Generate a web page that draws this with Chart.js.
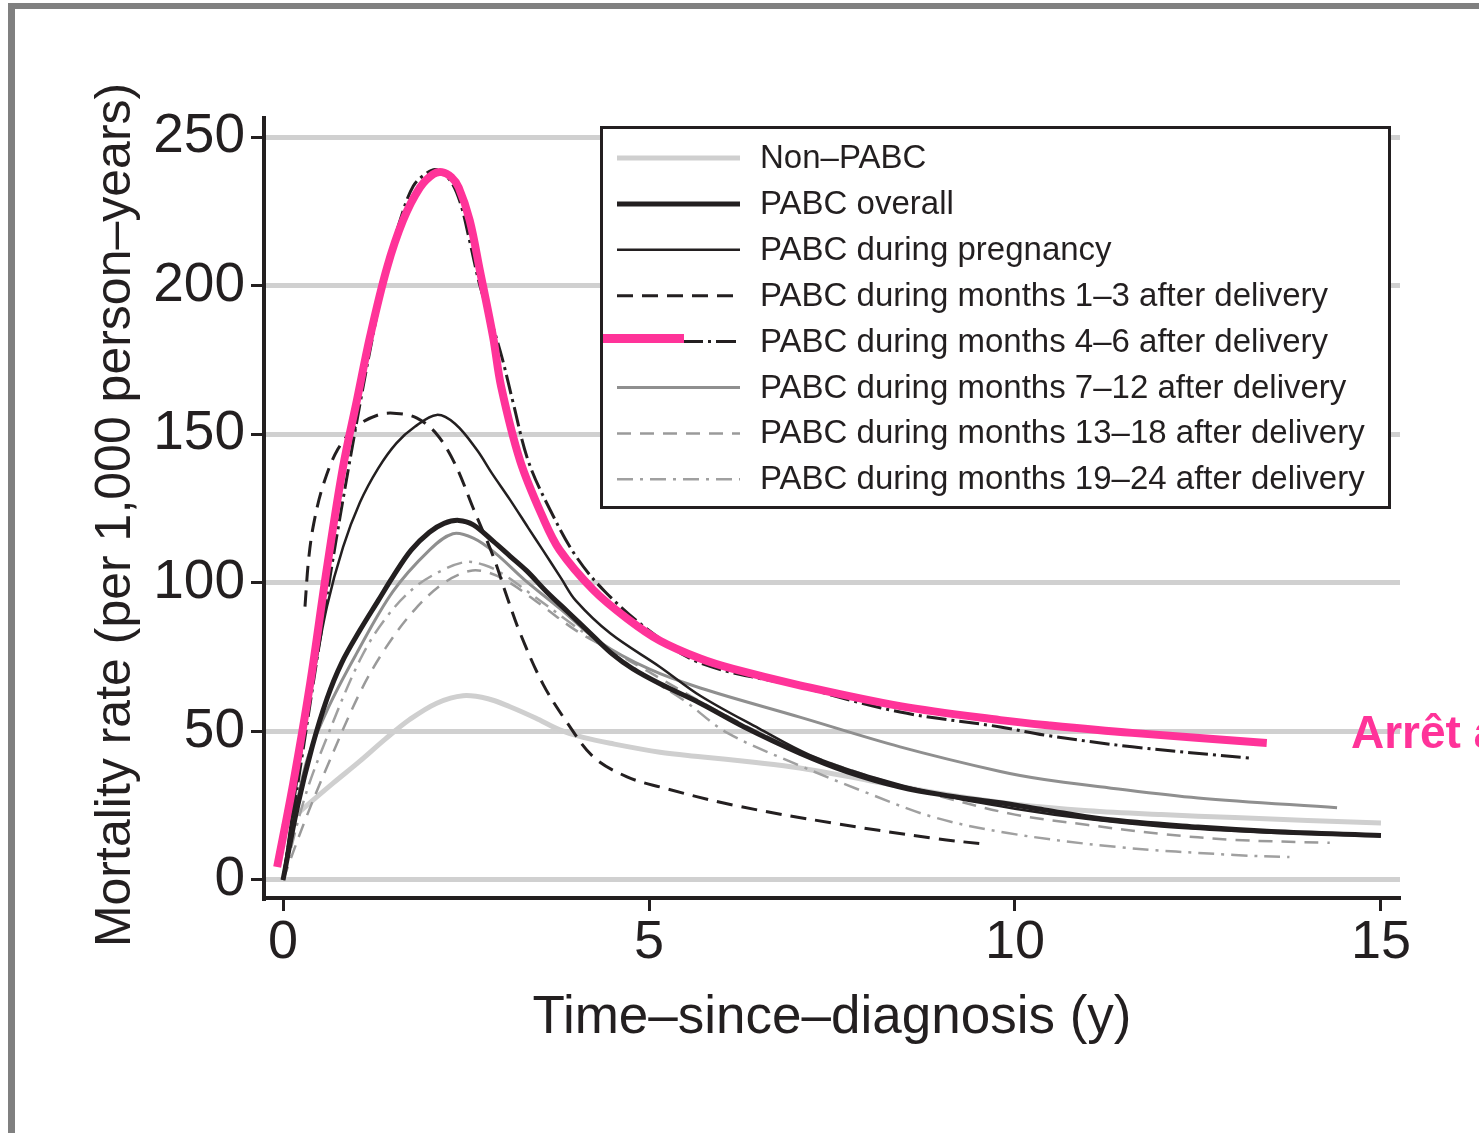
<!DOCTYPE html>
<html>
<head>
<meta charset="utf-8">
<script src="https://cdn.jsdelivr.net/npm/chart.js@4.4.1/dist/chart.umd.min.js"></script>
<style>
  html, body { margin: 0; padding: 0; background: #ffffff; }
  canvas { display: block; }
</style>
</head>
<body>
<canvas id="c" width="1479" height="1133" style="width:1479px;height:1133px"></canvas>
<script>
// ---------------- DATA ----------------
const xTickValues = [0, 5, 10, 15];
const yTickValues = [0, 50, 100, 150, 200, 250];
const xTitle = 'Time\u2013since\u2013diagnosis (y)';
const yTitle = 'Mortality rate (per 1,000 person\u2013years) ';
const annotationText = 'Arr\u00eat \u00e0';

const seriesLabels = [
  'Non\u2013PABC',
  'PABC overall',
  'PABC during pregnancy',
  'PABC during months 1\u20133 after delivery',
  'PABC during months 4\u20136 after delivery',
  'PABC during months 7\u201312 after delivery',
  'PABC during months 13\u201318 after delivery',
  'PABC during months 19\u201324 after delivery'
];

const nonPabcT = [0, 0.37, 0.68, 1.05, 1.4, 1.73, 2.1, 2.46, 2.8, 3.1, 3.45, 3.78, 4.1, 4.47, 5.15, 5.7, 6.4, 7.06, 8, 9, 10, 11, 12, 13, 14, 15];
const nonPabcRate = [18, 26, 32.5, 40, 47.5, 54, 59.5, 62, 61, 58.3, 54.5, 50.5, 48, 46, 43, 41.5, 39.7, 37.7, 33.5, 29, 25.5, 23.3, 22, 21, 20, 19.2];

const overallT = [0, 0.2, 0.4, 0.6, 0.8, 1.05, 1.3, 1.5, 1.75, 2.0, 2.2, 2.4, 2.6, 2.87, 3.1, 3.33, 3.6, 3.9, 4.24, 4.5, 4.78, 5.15, 5.7, 6.3, 7.06, 7.7, 8.43, 9.1, 9.8, 10.4, 11.2, 12.5, 13.5, 15];
const overallRate = [0, 25, 45, 61, 73, 84, 94, 102, 111, 117, 120, 121, 119.5, 114, 109, 104, 97, 90, 82, 76, 71, 66, 59.5, 51.5, 42.7, 36.5, 31.3, 28.3, 26, 23.6, 20.5, 17.8, 16.3, 15];

const pregnancyT = [0, 0.2, 0.4, 0.6, 0.82, 1.05, 1.3, 1.55, 1.8, 2.1, 2.35, 2.65, 2.85, 3.1, 3.35, 3.55, 3.8, 4.0, 4.47, 5.15, 5.7, 6.5, 7.2, 8, 9, 10, 11, 12, 13, 14, 15];
const pregnancyRate = [0, 35, 66, 92, 112, 127, 138.5, 147, 152.5, 156.5, 153.5, 144.7, 137, 128, 118.5, 111, 101.5, 94, 83, 71.7, 62, 51, 42, 35, 28.5, 24, 20.5, 18, 16.5, 15.5, 15];

const m1to3T = [0.3, 0.35, 0.42, 0.55, 0.75, 1.0, 1.3, 1.55, 1.83, 2.1, 2.35, 2.6, 2.87, 3.05, 3.24, 3.55, 3.88, 4.24, 4.7, 5.15, 6.15, 7.5, 8.9, 9.6];
const m1to3Rate = [92, 108, 120, 133, 145, 152.5, 156.5, 157, 155.4, 150, 140, 125, 109, 96, 83, 66, 53, 41.4, 34.7, 31.3, 25.2, 19.2, 14, 12];

const m4to6T = [0, 0.25, 0.5, 0.75, 1.05, 1.25, 1.42, 1.6, 1.78, 1.97, 2.1, 2.28, 2.42, 2.55, 2.69, 2.87, 3.0, 3.14, 3.35, 3.65, 4.0, 4.4, 5.0, 5.7, 7.06, 8.43, 9.8, 10.4, 11.6, 13.2];
const m4to6Rate = [0, 40, 80, 118, 160, 186, 206, 222, 233.5, 238, 239, 235.5, 228, 215, 200, 186, 175, 161, 141, 124.5, 109, 97, 84, 73, 65, 56.5, 51.5, 48.8, 44.8, 41];

const m7to12T = [0, 0.3, 0.6, 1.0, 1.5, 2.0, 2.32, 2.6, 2.9, 3.3, 3.8, 4.33, 5.0, 5.7, 7.06, 8.43, 9.8, 10.4, 11.16, 12.5, 14.4];
const m7to12Rate = [0, 38, 57, 76, 97, 111, 116.5, 115, 110, 101, 91, 80, 71, 64.6, 54.8, 44.8, 36.5, 33.8, 31.4, 27.6, 24.3];

const m13to18T = [0, 0.3, 0.6, 1.05, 1.4, 1.8, 2.2, 2.55, 2.8, 3.1, 3.5, 4.0, 4.5, 5.0, 6.0, 7.0, 8.0, 9.0, 10, 11, 12, 13, 14.3];
const m13to18Rate = [0, 20, 38, 63, 78, 91, 100, 104, 103.5, 100, 93, 84, 77, 70, 56, 44, 35, 28, 22, 18.5, 15.5, 13.5, 12.5];

const m19to24T = [0, 0.3, 0.6, 1.05, 1.4, 1.8, 2.2, 2.5, 2.75, 3.0, 3.4, 3.9, 4.4, 5.0, 5.5, 6.07, 7.06, 7.98, 8.88, 9.9, 11.4, 13, 13.75];
const m19to24Rate = [0, 28, 48, 74, 88, 98.5, 104.5, 107, 106, 103, 96, 87, 78, 68, 60, 49.5, 38.5, 29.3, 21.2, 15.8, 11.1, 8.4, 7.7];

// pink hand-drawn highlight over the months 4-6 curve
const highlightT = [-0.08, 0.14, 0.37, 0.6, 0.82, 1.01, 1.19, 1.42, 1.64, 1.87, 2.05, 2.17, 2.3, 2.4, 2.55, 2.69, 2.87, 2.98, 3.24, 3.55, 3.78, 4.24, 4.7, 5.15, 5.7, 6.15, 7.06, 8.43, 9.8, 10.48, 11.6, 13.44];
const highlightRate = [4.4, 32.6, 66, 105, 139, 161.5, 183, 206, 222, 233, 237.5, 238.2, 236.5, 233, 222, 205, 182.7, 166, 141, 122, 111, 97.6, 88, 80.5, 74.5, 71, 65.5, 58.5, 53.8, 52, 49.5, 46.1];

// ---------------- STYLE ----------------
const INK = '#231f20';
const PINK = '#ff3399';
const FONT = '"Liberation Sans", Arial, Helvetica, sans-serif';

function pts(t, v) { return t.map((x, i) => ({ x: x, y: v[i] })); }

const styles = [
  { color: '#cfcfcf', width: 5, dash: [] },
  { color: INK, width: 5, dash: [] },
  { color: INK, width: 2.5, dash: [] },
  { color: INK, width: 3, dash: [16, 9] },
  { color: INK, width: 3, dash: [20, 5, 3, 5] },
  { color: '#8f8f8f', width: 3, dash: [] },
  { color: '#9a9a9a', width: 2.5, dash: [14, 9] },
  { color: '#a0a0a0', width: 2.5, dash: [16, 7, 3, 7] }
];
const seriesData = [
  pts(nonPabcT, nonPabcRate),
  pts(overallT, overallRate),
  pts(pregnancyT, pregnancyRate),
  pts(m1to3T, m1to3Rate),
  pts(m4to6T, m4to6Rate),
  pts(m7to12T, m7to12Rate),
  pts(m13to18T, m13to18Rate),
  pts(m19to24T, m19to24Rate)
];
const drawOrder = [8, 1, 3, 2, 4, 5, 6, 7];

const datasets = seriesLabels.map((label, i) => ({
  label: label,
  data: seriesData[i],
  borderColor: styles[i].color,
  borderWidth: styles[i].width,
  borderDash: styles[i].dash,
  order: drawOrder[i],
  fill: false
}));
datasets.push({
  label: 'highlight',
  isHighlight: true,
  data: pts(highlightT, highlightRate),
  borderColor: PINK,
  borderWidth: 8,
  borderDash: [],
  order: 0,
  fill: false
});

// ---------------- PLUGINS ----------------
const framePlugin = {
  id: 'frame',
  beforeDraw(chart) {
    const ctx = chart.ctx;
    ctx.save();
    ctx.fillStyle = '#ffffff';
    ctx.fillRect(0, 0, chart.width, chart.height);
    ctx.fillStyle = '#808080';
    ctx.fillRect(8, 3, chart.width - 8, 6);
    ctx.fillRect(8, 3, 7, chart.height - 3);
    ctx.restore();
  }
};

const legendPlugin = {
  id: 'boxLegend',
  afterDraw(chart) {
    const ctx = chart.ctx;
    const box = { x: 601.5, y: 127.5, w: 788, h: 380 };
    ctx.save();
    ctx.fillStyle = '#ffffff';
    ctx.fillRect(box.x, box.y, box.w, box.h);
    ctx.strokeStyle = INK;
    ctx.lineWidth = 3;
    ctx.setLineDash([]);
    ctx.strokeRect(box.x, box.y, box.w, box.h);
    const items = chart.data.datasets.filter(d => !d.isHighlight);
    const rowH = 45.9;
    items.forEach((d, i) => {
      const y = 158 + i * rowH;
      ctx.beginPath();
      ctx.setLineDash(d.borderDash || []);
      ctx.strokeStyle = d.borderColor;
      ctx.lineWidth = d.borderWidth;
      ctx.moveTo(617, y);
      ctx.lineTo(740, y);
      ctx.stroke();
      ctx.setLineDash([]);
      ctx.fillStyle = INK;
      ctx.font = '33px ' + FONT;
      ctx.textBaseline = 'middle';
      ctx.textAlign = 'left';
      ctx.fillText(d.label, 760, y + 1);
    });
    // pink highlight mark in legend (row of months 4-6)
    const hl = chart.data.datasets.find(d => d.isHighlight);
    const yHl = 158 + 4 * rowH - 3;
    ctx.beginPath();
    ctx.strokeStyle = hl.borderColor;
    ctx.lineWidth = 9;
    ctx.moveTo(603, yHl);
    ctx.lineTo(684, yHl);
    ctx.stroke();
    // annotation text
    ctx.fillStyle = PINK;
    ctx.font = 'bold 46px ' + FONT;
    ctx.textBaseline = 'alphabetic';
    ctx.textAlign = 'left';
    ctx.fillText(annotationText, 1351, 748);
    ctx.restore();
  }
};

// ---------------- CHART ----------------
new Chart(document.getElementById('c'), {
  type: 'line',
  data: { datasets: datasets },
  options: {
    responsive: false,
    animation: false,
    devicePixelRatio: 1,
    layout: { padding: { top: 118, right: 79, left: 0, bottom: 0 } },
    elements: {
      point: { radius: 0, hoverRadius: 0 },
      line: { cubicInterpolationMode: 'default', tension: 0.35, borderCapStyle: 'butt' }
    },
    plugins: {
      legend: { display: false },
      tooltip: { enabled: false }
    },
    scales: {
      x: {
        type: 'linear',
        min: -0.26,
        max: 15.26,
        afterBuildTicks: s => { s.ticks = xTickValues.map(v => ({ value: v })); },
        afterFit: s => { s.height = 1133 - 898; },
        ticks: { color: INK, font: { family: FONT, size: 54 }, padding: 0, maxRotation: 0 },
        grid: { drawOnChartArea: false, drawTicks: true, tickLength: 13, tickWidth: 3, tickColor: INK },
        border: { display: true, color: INK, width: 4 },
        title: { display: true, text: xTitle, color: INK, font: { family: FONT, size: 53 }, padding: { top: 0, bottom: 83 } }
      },
      y: {
        type: 'linear',
        min: -6.06,
        max: 256.4,
        afterBuildTicks: s => { s.ticks = yTickValues.map(v => ({ value: v })); },
        afterFit: s => { s.width = 264; },
        ticks: { color: INK, font: { family: FONT, size: 55 }, padding: 6 },
        grid: { color: '#d0d0d0', lineWidth: 5, drawTicks: true, tickLength: 13, tickWidth: 3, tickColor: INK },
        border: { display: true, color: INK, width: 4 },
        title: { display: true, text: yTitle, color: INK, font: { family: FONT, size: 50 }, padding: { top: 86, bottom: 0 } }
      }
    }
  },
  plugins: [framePlugin, legendPlugin]
});
</script>
</body>
</html>
